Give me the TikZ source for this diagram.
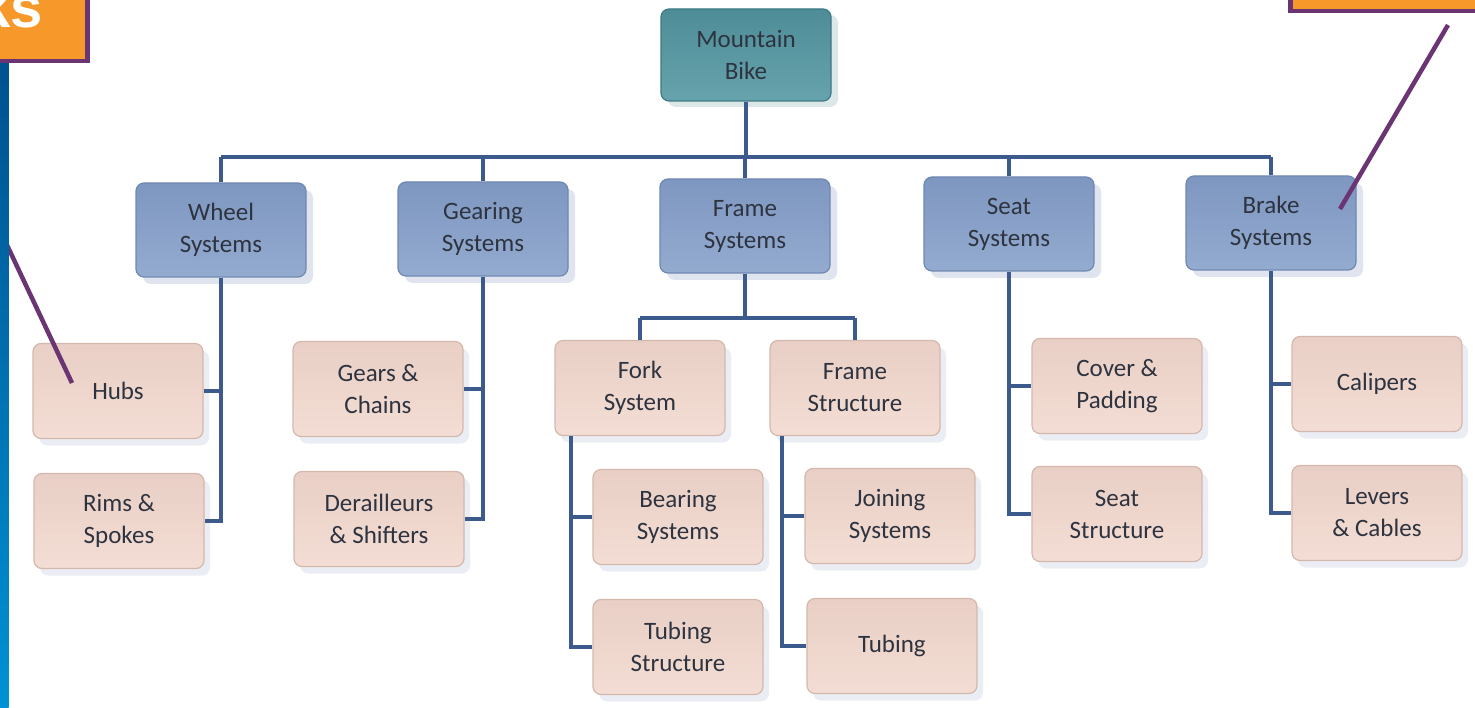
\documentclass[tikz,border=0pt]{standalone}
\usepackage{fontspec}
\setmainfont{Carlito}
\newfontfamily\calloutfont{Liberation Sans}
\usetikzlibrary{shadows}

\definecolor{linkblue}{HTML}{3D5A8C}
\definecolor{rootfill}{HTML}{66A3AD}
\definecolor{roottop}{HTML}{4E8C97}
\definecolor{rootedge}{HTML}{3E7A85}
\definecolor{sysfill}{HTML}{94ABD0}
\definecolor{systop}{HTML}{7E97C0}
\definecolor{sysedge}{HTML}{6F88B2}
\definecolor{partfill}{HTML}{F3DDD4}
\definecolor{parttop}{HTML}{E9CFC5}
\definecolor{partedge}{HTML}{D4B8AD}
\definecolor{labeltext}{HTML}{2E3340}
\definecolor{calloutorange}{HTML}{F7992A}
\definecolor{calloutpurple}{HTML}{6B3574}
\definecolor{stripdark}{HTML}{00518F}
\definecolor{striplight}{HTML}{0092D4}

\tikzset{
  box/.style={rounded corners=8pt, align=center, text=labeltext,
    font=\fontsize{25}{32}\selectfont, inner sep=0pt,
    line width=1.2pt},
  rootbox/.style={box, minimum width=170pt, minimum height=92pt,
    top color=roottop, bottom color=rootfill, draw=rootedge,
    drop shadow={shadow xshift=7pt, shadow yshift=-6pt, fill=rootedge, opacity=0.18}},
  sysbox/.style={box, minimum width=170pt, minimum height=94pt,
    top color=systop, bottom color=sysfill, draw=sysedge,
    drop shadow={shadow xshift=7pt, shadow yshift=-7pt, fill=sysedge, opacity=0.22}},
  partbox/.style={box, minimum width=170pt, minimum height=95pt,
    top color=parttop, bottom color=partfill, draw=partedge,
    drop shadow={shadow xshift=6pt, shadow yshift=-7pt, fill=sysedge, opacity=0.14}},
  link/.style={draw=linkblue, line width=4pt, line join=miter},
  callout/.style={fill=calloutorange, draw=calloutpurple, line width=4.5pt},
  pointer/.style={draw=calloutpurple, line width=4.5pt},
}

\begin{document}
\begin{tikzpicture}[x=1pt, y=-1pt]
\useasboundingbox (0,0) rectangle (1475,708);
\clip (0,0) rectangle (1475,708);
\fill[white] (0,0) rectangle (1475,708);

% root
\node[rootbox] (mb) at (746,55) {Mountain\\Bike};

% systems
\node[sysbox] (wheel) at (221,230) {Wheel\\Systems};
\node[sysbox] (gear)  at (483,229) {Gearing\\Systems};
\node[sysbox] (frame) at (745,226) {Frame\\Systems};
\node[sysbox] (seat)  at (1009,224) {Seat\\Systems};
\node[sysbox] (brake) at (1271,223) {Brake\\Systems};

% parts
\node[partbox] (hubs)  at (118,391) {Hubs};
\node[partbox] (rims)  at (119,521) {Rims \&\\Spokes};
\node[partbox] (gears) at (378,389) {Gears \&\\Chains};
\node[partbox] (der)   at (379,519) {Derailleurs\\\& Shifters};
\node[partbox] (fork)  at (640,388) {Fork\\System};
\node[partbox] (fstr)  at (855,388) {Frame\\Structure};
\node[partbox] (bear)  at (678,517) {Bearing\\Systems};
\node[partbox] (tubs)  at (678,647) {Tubing\\Structure};
\node[partbox] (join)  at (890,516) {Joining\\Systems};
\node[partbox] (tube)  at (892,646) {Tubing};
\node[partbox] (cover) at (1117,386) {Cover \&\\Padding};
\node[partbox] (sstr)  at (1117,514) {Seat\\Structure};
\node[partbox] (cal)   at (1377,384) {Calipers};
\node[partbox] (lev)   at (1377,513) {Levers\\\& Cables};

% connectors
\coordinate (bus) at (746,157);
\coordinate (fbus) at (746,318);

\path[link] (mb.south) -- (mb.south |- bus);
\path[link] (wheel.north |- bus) -- (brake.north |- bus);
\foreach \s in {wheel,gear,frame,seat,brake}
  \path[link] (\s.north) -- (\s.north |- bus);

\path[link] (frame.south) -- (frame.south |- fbus);
\path[link] (fork.north |- fbus) -- (fstr.north |- fbus);
\path[link] (fork.north) -- (fork.north |- fbus);
\path[link] (fstr.north) -- (fstr.north |- fbus);

\path[link] (wheel.south) -- (wheel.south |- rims.east) -- (rims.east);
\path[link] (hubs.east) -- (wheel.south |- hubs.east);

\path[link] (gear.south) -- (gear.south |- der.east) -- (der.east);
\path[link] (gears.east) -- (gear.south |- gears.east);

\coordinate (forkspine) at ([xshift=17pt]fork.south west);
\path[link] (forkspine) -- (forkspine |- tubs.west) -- (tubs.west);
\path[link] (bear.west) -- (forkspine |- bear.west);

\coordinate (fstrspine) at ([xshift=13pt]fstr.south west);
\path[link] (fstrspine) -- (fstrspine |- tube.west) -- (tube.west);
\path[link] (join.west) -- (fstrspine |- join.west);

\path[link] (seat.south) -- (seat.south |- sstr.west) -- (sstr.west);
\path[link] (cover.west) -- (seat.south |- cover.west);

\path[link] (brake.south) -- (brake.south |- lev.west) -- (lev.west);
\path[link] (cal.west) -- (brake.south |- cal.west);

% callouts
\coordinate (leftfrom) at (-10,209);
\coordinate (leftto) at (72,383);
\path[pointer] (leftfrom) -- (leftto);

\shade[top color=stripdark, bottom color=striplight] (0,60) rectangle (8.5,708);

\path[callout] (-60,-60) rectangle (87.5,61);
\node[anchor=base east, inner sep=0pt, text=white,
      font=\calloutfont\bfseries\fontsize{58}{60}\selectfont] (lefttag) at (43,28) {ks};

\path[callout] (1290.5,-60) rectangle (1540,11);
\coordinate (rightfrom) at (1448,25);
\coordinate (rightto) at (1340,209);
\path[pointer] (rightfrom) -- (rightto);
\end{tikzpicture}
\end{document}
